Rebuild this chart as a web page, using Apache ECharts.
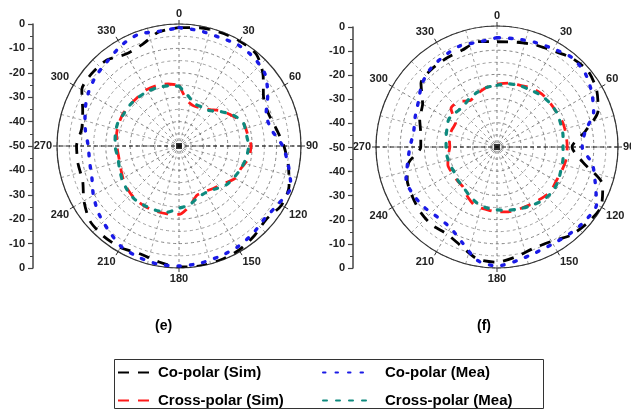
<!DOCTYPE html>
<html><head><meta charset="utf-8">
<script src="https://cdn.jsdelivr.net/npm/echarts@6/dist/echarts.min.js"></script>
<style>html,body{margin:0;padding:0;background:#fff}#c{width:631px;height:410px}</style>
</head><body><div id="c"></div>
<script>
// angles (degrees, 0 at top, clockwise)
const angles = [0,10,20,30,40,50,60,70,80,90,100,110,120,130,140,150,160,170,180,190,200,210,220,230,240,250,260,270,280,290,300,310,320,330,340,350];
const angleTicks = [0,30,60,90,120,150,180,210,240,270,300,330];
const radialTicks = ['0','-10','-20','-30','-40','-50','-40','-30','-20','-10','0'];

// (e)
const e_coSim    = [-1.5,-0.8,-0.5,-0.3,-0.8,-5,-10,-11,-9.5,-7,-4.5,-2,-1.5,-3.3,-2,-0.8,-0.3,-0.1,-0.4,-1.8,-3,-2,-1.8,-2.3,-5,-8,-8,-8,-9.5,-8,-4,-3.5,-4,-6.5,-5.8,-2.5];
const e_coMea    = [-1.5,-2,-2.5,-2,-2.5,-4,-8,-12,-11.5,-7.5,-4.5,-1.2,-2.8,-4,-3,-2.2,-1.8,-1.2,-0.8,-0.8,-1.5,-2.5,-5,-7,-9.5,-12,-12.8,-12.8,-11,-9,-7,-5.5,-4.5,-2.5,-1.3,-2.3];
const e_crossSim = [-25,-31,-32.5,-32,-30.5,-27.5,-25,-22,-21.5,-20.5,-21,-23,-23.5,-26,-27.5,-28.5,-28.5,-25,-22,-21.8,-21.6,-21.6,-21.8,-22.5,-23.5,-24.5,-24.9,-24.5,-24,-23.7,-23.5,-23.8,-23.8,-23.4,-23.6,-24.2];
const e_crossMea = [-25.5,-29,-31.5,-31.5,-31,-28,-24.5,-22,-22,-21.5,-22,-23,-24,-25,-27,-28,-27.5,-25.5,-24.5,-22.5,-22,-21.8,-21.6,-22.2,-23,-24,-24.5,-23.8,-23.5,-23.2,-23.8,-23.8,-24,-24.2,-24.5,-25];
// (f)
const f_coSim    = [-6.5,-6,-5,-4,-2,-1,-2.5,-5.5,-13,-19,-14,-3.5,-0.4,-1.2,-2.5,-5,-5.5,-4,-2.4,-3,-6.5,-8.5,-8,-8.5,-9.5,-10.5,-13,-18.5,-18,-16,-14.5,-9,-8,-7.8,-7.5,-5.8];
const f_coMea    = [-4.8,-4.6,-4,-3.2,-1.8,-2.5,-4.8,-7.5,-13,-14.8,-10,-6.8,-2.5,-2.5,-3.2,-3.8,-3.5,-2.3,-0.8,-2.5,-8,-11.5,-12,-11,-10.2,-10,-12.5,-14,-15,-14,-12.5,-9.5,-7.5,-6.5,-5.5,-6];
const f_crossSim = [-24,-23.2,-22.8,-21.8,-21.3,-21.5,-21.5,-21,-21,-21,-21,-21.5,-21.8,-21.2,-22,-22.5,-22.8,-22.8,-23.2,-23.8,-24,-26,-28.3,-28.5,-28.6,-28.4,-29.5,-30.5,-30,-30,-30.2,-25.2,-25.5,-27.8,-26.5,-25];
const f_crossMea = [-24.5,-23.5,-23,-22.7,-22,-21.6,-21.5,-22,-22.3,-22.7,-22.3,-21.9,-21,-20.6,-21,-22,-22.8,-23.5,-24,-24.5,-25.5,-27,-28.3,-28.8,-29.5,-29.2,-29,-29,-28.6,-28,-27,-27.8,-28.2,-27,-26,-25];

const seriesNames = ['Co-polar (Sim)','Co-polar (Mea)','Cross-polar (Sim)','Cross-polar (Mea)'];
const panelLabels = ['(e)','(f)'];
const refAngles = [90, 270];

const styles = [
  {color:'#000000', width:2.8, type:[11,9], cap:'butt'},
  {color:'#1a1ae6', width:3.4, type:[2.5,10], cap:'round'},
  {color:'#ff1a1a', width:2.8, type:[11,9], cap:'butt'},
  {color:'#0e8a7e', width:3.2, type:[4,9], cap:'round'}
];

function toData(vals){
  const d = vals.map((v,i)=>[v, angles[i]]);
  d.push([vals[0], 360]);
  return d;
}

const FONT = 'Liberation Sans, Arial, sans-serif';
const chart = echarts.init(document.getElementById('c'), null, {renderer:'canvas'});

function angleAxisCfg(idx){
  return {
    polarIndex: idx, type:'value', min:0, max:360, interval:30, startAngle:90, clockwise:true,
    axisLine:{show:true, lineStyle:{color:'#333', width:1.2}},
    axisTick:{show:true, length:4, inside:false, lineStyle:{color:'#333'}},
    axisLabel:{show:true, margin:5, color:'#222', fontFamily:FONT, fontWeight:'bold', fontSize:11,
      formatter: v => angleTicks.indexOf(v) >= 0 ? String(v) : ''},
    splitLine:{show:true, lineStyle:{color:'#666', width:0.8, type:[3,3]}},
    minorTick:{show:false, splitNumber:2},
    minorSplitLine:{show:true, lineStyle:{color:'#888', width:0.8, type:[3,3]}}
  };
}
function radiusAxisCfg(idx){
  return {
    polarIndex: idx, type:'value', min:-50, max:0, interval:10,
    axisLine:{show:false}, axisTick:{show:false}, axisLabel:{show:false},
    splitLine:{show:true, lineStyle:{color:'#666', width:0.8, type:[3,3]}},
    minorTick:{show:false, splitNumber:2},
    minorSplitLine:{show:true, lineStyle:{color:'#888', width:0.8, type:[3,3]}}
  };
}
function yAxisCfg(idx){
  return {
    gridIndex: idx, type:'value', min:0, max:100, interval:10, position:'left',
    axisLine:{show:true, lineStyle:{color:'#444', width:1.5}},
    axisTick:{show:true, length:5, inside:false, lineStyle:{color:'#444', width:1.2}},
    minorTick:{show:true, splitNumber:2, length:3, lineStyle:{color:'#444', width:1}},
    splitLine:{show:false},
    axisLabel:{margin:8, color:'#222', fontFamily:FONT, fontWeight:'bold', fontSize:11,
      formatter: v => radialTicks[Math.round(v/10)]}
  };
}

const panels = [
  {data:[e_coSim,e_coMea,e_crossSim,e_crossMea]},
  {data:[f_coSim,f_coMea,f_crossSim,f_crossMea]}
];

const series = [];
panels.forEach((p, pi) => {
  series.push({type:'line', coordinateSystem:'polar', polarIndex:pi, silent:true, symbol:'none',
    data:[[0, refAngles[0]],[-50, refAngles[0]],[0, refAngles[1]]],
    lineStyle:{color:'#111', width:1, type:[4,3]}, z:1});
  series.push({type:'scatter', coordinateSystem:'polar', polarIndex:pi, silent:true,
    symbol:'rect', symbolSize:6, data:[[-50,0]], itemStyle:{color:'#000'}, z:1});
  p.data.forEach((vals, si) => {
    const s = styles[si];
    series.push({
      name: seriesNames[si], type:'line', coordinateSystem:'polar', polarIndex:pi,
      data: toData(vals), symbol:'none', smooth:0.25,
      lineStyle:{color:s.color, width:s.width, type:s.type, cap:s.cap},
      itemStyle:{color:s.color}, z:5+si
    });
  });
});

const legendText = {fontFamily:FONT, fontWeight:'bold', fontSize:15, color:'#000'};

const option = {
  backgroundColor:'#fff',
  animation:false,
  title:[
    {text:panelLabels[0], left:150, top:314, textStyle:{fontFamily:FONT, fontWeight:'bold', fontSize:14, color:'#000'}},
    {text:panelLabels[1], left:472, top:314, textStyle:{fontFamily:FONT, fontWeight:'bold', fontSize:14, color:'#000'}}
  ],
  polar:[{center:[179,146], radius:122}, {center:[497,147], radius:121}],
  angleAxis:[angleAxisCfg(0), angleAxisCfg(1)],
  radiusAxis:[radiusAxisCfg(0), radiusAxisCfg(1)],
  grid:[
    {left:33, top:24, width:8, height:244},
    {left:353, top:27, width:8, height:241}
  ],
  xAxis:[{gridIndex:0, type:'value', show:false},{gridIndex:1, type:'value', show:false}],
  yAxis:[yAxisCfg(0), yAxisCfg(1)],
  legend:[
    {data:[seriesNames[0], seriesNames[2]], orient:'vertical', left:117, top:365, padding:0,
      itemWidth:34, itemHeight:12, itemGap:13, textStyle:Object.assign({}, legendText, {padding:[0,0,0,1]}), selectedMode:false,
      itemStyle:{opacity:0}},
    {data:[seriesNames[1], seriesNames[3]], orient:'vertical', left:322, top:365, padding:0,
      itemWidth:50, itemHeight:12, itemGap:13, textStyle:Object.assign({}, legendText, {padding:[0,0,0,7]}), selectedMode:false,
      itemStyle:{opacity:0}}
  ],
  graphic:[
    {type:'rect', shape:{x:114.5, y:359.5, width:429, height:49}, style:{fill:'none', stroke:'#333', lineWidth:1}, silent:true}
  ],
  series: series
};
chart.setOption(option);
</script>
</body></html>
